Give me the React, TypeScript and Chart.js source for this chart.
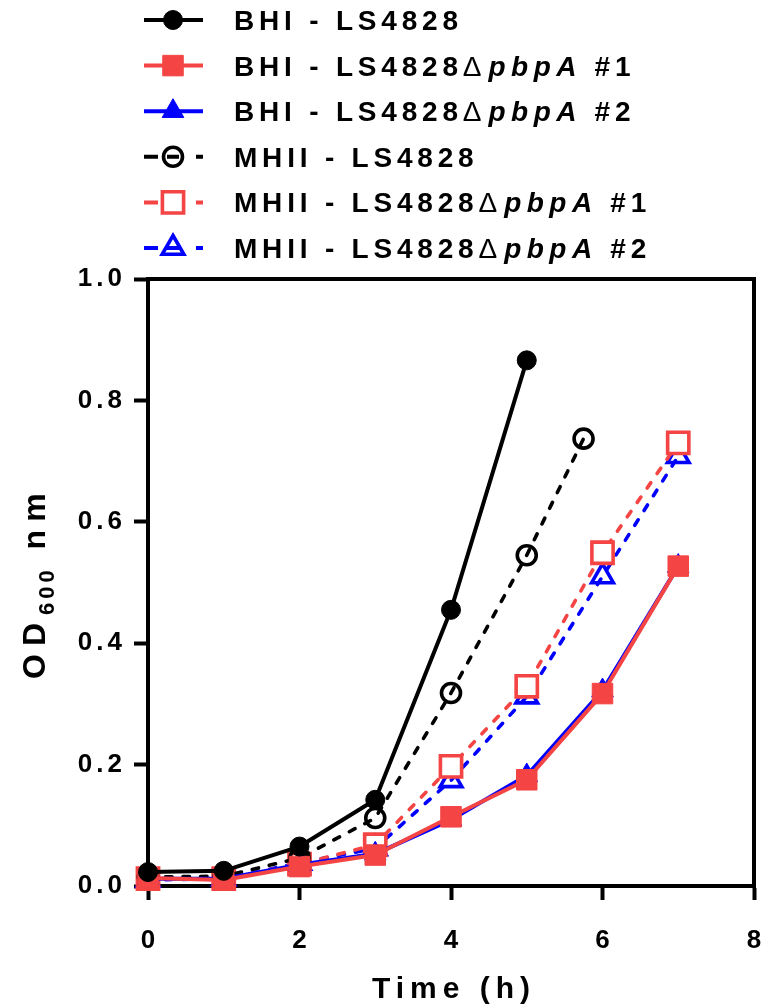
import React, { useEffect, useRef } from 'react';
import { Chart, registerables } from 'chart.js';

Chart.register(...registerables);

// ---- data ----
const bhiWtTime = [0, 1, 2, 3, 4, 5];
const bhiWtOD = [0.023, 0.025, 0.065, 0.142, 0.455, 0.866];

const mhiiWtTime = [0, 1, 2, 3, 4, 5, 5.75];
const mhiiWtOD = [0.015, 0.016, 0.046, 0.112, 0.318, 0.545, 0.737];

const mutantTime = [0, 1, 2, 3, 4, 5, 6, 7];
const bhiDel1OD = [0.013, 0.010, 0.032, 0.051, 0.114, 0.175, 0.317, 0.527];
const bhiDel2OD = [0.012, 0.012, 0.035, 0.053, 0.109, 0.182, 0.322, 0.527];
const mhiiDel1OD = [0.012, 0.012, 0.036, 0.068, 0.197, 0.329, 0.549, 0.730];
const mhiiDel2OD = [0.010, 0.012, 0.038, 0.062, 0.174, 0.312, 0.510, 0.708];

const xTicks = [0, 2, 4, 6, 8];
const yTicks = [0, 0.2, 0.4, 0.6, 0.8, 1.0];

const mediumNames = ['BHI', 'BHI', 'BHI', 'MHII', 'MHII', 'MHII'];
const strainName = 'LS4828';
const mutantGene = 'pbpA';
const cloneTags = ['', '#1', '#2', '', '#1', '#2'];

const xTitle = 'Time (h)';
const yTitleMain = 'OD';
const yTitleSub = '600';
const yTitleUnit = ' nm';

const BLACK = '#000000';
const RED = '#F44444';
const BLUE = '#0000FF';
const FONT = '"Liberation Sans", Arial, sans-serif';

const pts = (xs: number[], ys: number[]) => ys.map((y, i) => ({ x: xs[i], y }));

function drawMarker(ctx: CanvasRenderingContext2D, style: string, x: number, y: number, r: number,
  fill: string, stroke: string, lw: number) {
  ctx.beginPath();
  if (style === 'circle') {
    ctx.arc(x, y, r, 0, Math.PI * 2);
  } else if (style === 'rect') {
    const s = r * Math.SQRT1_2;
    ctx.rect(x - s, y - s, 2 * s, 2 * s);
  } else {
    ctx.moveTo(x, y - r);
    ctx.lineTo(x + r * Math.sin((2 * Math.PI) / 3), y + r / 2);
    ctx.lineTo(x - r * Math.sin((2 * Math.PI) / 3), y + r / 2);
    ctx.closePath();
  }
  if (fill && fill !== 'transparent') {
    ctx.fillStyle = fill;
    ctx.fill();
  }
  ctx.lineWidth = lw;
  ctx.strokeStyle = stroke;
  ctx.lineJoin = 'miter';
  ctx.stroke();
}

const framePlugin = {
  id: 'frameAndText',
  beforeDraw(chart: any) {
    chart.ctx.letterSpacing = '4px';
  },
  beforeDatasetsDraw(chart: any) {
    const { ctx, chartArea } = chart;
    ctx.save();
    ctx.strokeStyle = BLACK;
    ctx.lineWidth = 4;
    ctx.lineCap = 'square';
    ctx.beginPath();
    ctx.moveTo(chartArea.left, chartArea.top);
    ctx.lineTo(chartArea.right, chartArea.top);
    ctx.lineTo(chartArea.right, chartArea.bottom);
    ctx.stroke();
    ctx.restore();
  },
  afterDraw(chart: any) {
    const { ctx, chartArea } = chart;
    const xScale = chart.scales.x;
    ctx.save();
    ctx.fillStyle = BLACK;
    ctx.textAlign = 'left';
    ctx.textBaseline = 'alphabetic';

    // x tick labels
    ctx.font = `bold 26px ${FONT}`;
    ctx.letterSpacing = '4px';
    xTicks.forEach((v) => {
      const t = String(v);
      const w = ctx.measureText(t).width - 4;
      ctx.fillText(t, xScale.getPixelForValue(v) - w / 2, 948);
    });

    // x title
    ctx.font = `bold 30px ${FONT}`;
    ctx.letterSpacing = '6px';
    const xw = ctx.measureText(xTitle).width - 6;
    ctx.fillText(xTitle, (chartArea.left + chartArea.right) / 2 - xw / 2, 998);

    // y title (rotated, with subscript)
    ctx.save();
    ctx.translate(45, 679);
    ctx.rotate(-Math.PI / 2);
    let px = 0;
    ctx.font = `bold 32px ${FONT}`;
    ctx.letterSpacing = '8px';
    ctx.fillText(yTitleMain, px, 0);
    px += ctx.measureText(yTitleMain).width;
    ctx.font = `bold 22px ${FONT}`;
    ctx.letterSpacing = '4px';
    ctx.fillText(yTitleSub, px, 9);
    px += ctx.measureText(yTitleSub).width;
    ctx.font = `bold 32px ${FONT}`;
    ctx.letterSpacing = '8px';
    ctx.fillText(yTitleUnit, px, 0);
    ctx.restore();

    // legend
    const rowTop = 20;
    const rowGap = 45.6;
    chart.data.datasets.forEach((ds: any, i: number) => {
      const y = rowTop + i * rowGap;
      const dashed = ds.borderDash && ds.borderDash.length > 0;
      ctx.strokeStyle = ds.borderColor;
      ctx.lineWidth = 4;
      ctx.lineCap = 'butt';
      ctx.setLineDash(dashed ? [14, 9, 12, 17, 7, 100] : []);
      ctx.beginPath();
      ctx.moveTo(144, y);
      ctx.lineTo(203, y);
      ctx.stroke();
      ctx.setLineDash([]);
      drawMarker(ctx, ds.pointStyle, 173, y, ds.pointRadius, ds.pointBackgroundColor,
        ds.pointBorderColor, ds.pointBorderWidth);

      const parts: { t: string; f: string; ls: number }[] = [
        { t: `${mediumNames[i]} - ${strainName}`, f: `bold 28px ${FONT}`, ls: 4.8 },
      ];
      if (cloneTags[i]) {
        parts.push({ t: '\u0394', f: `28px ${FONT}`, ls: 7 });
        parts.push({ t: mutantGene, f: `italic bold 28px ${FONT}`, ls: 5.5 });
        parts.push({ t: ` ${cloneTags[i]}`, f: `bold 28px ${FONT}`, ls: 4.8 });
      }
      let tx = 234;
      ctx.fillStyle = BLACK;
      parts.forEach((p) => {
        ctx.font = p.f;
        ctx.letterSpacing = `${p.ls}px`;
        ctx.fillText(p.t, tx, y + 10);
        tx += ctx.measureText(p.t).width;
      });
    });
    ctx.restore();
    ctx.letterSpacing = '0px';
  },
};

export default function App() {
  const ref = useRef<HTMLCanvasElement | null>(null);

  useEffect(() => {
    if (!ref.current) return;
    const solid = { borderWidth: 4, borderCapStyle: 'round' as const, borderJoinStyle: 'round' as const };
    const dashed = { borderWidth: 3.6, borderDash: [6.5, 11], borderCapStyle: 'round' as const };
    const label = (i: number) =>
      `${mediumNames[i]} - ${strainName}${cloneTags[i] ? `\u0394${mutantGene} ${cloneTags[i]}` : ''}`;

    const chart = new Chart(ref.current, {
      type: 'line',
      data: {
        datasets: [
          {
            label: label(0), data: pts(bhiWtTime, bhiWtOD), ...solid,
            borderColor: BLACK, pointStyle: 'circle', pointRadius: 9.5,
            pointBackgroundColor: BLACK, pointBorderColor: BLACK, pointBorderWidth: 1,
          },
          {
            label: label(1), data: pts(mutantTime, bhiDel1OD), ...solid,
            borderColor: RED, pointStyle: 'rect', pointRadius: 14.5,
            pointBackgroundColor: RED, pointBorderColor: RED, pointBorderWidth: 1,
          },
          {
            label: label(2), data: pts(mutantTime, bhiDel2OD), ...solid,
            borderColor: BLUE, pointStyle: 'triangle', pointRadius: 12.5,
            pointBackgroundColor: BLUE, pointBorderColor: BLUE, pointBorderWidth: 1,
          },
          {
            label: label(3), data: pts(mhiiWtTime, mhiiWtOD), ...dashed,
            borderColor: BLACK, pointStyle: 'circle', pointRadius: 9.5,
            pointBackgroundColor: 'transparent', pointBorderColor: BLACK, pointBorderWidth: 3.6,
          },
          {
            label: label(4), data: pts(mutantTime, mhiiDel1OD), ...dashed,
            borderColor: RED, pointStyle: 'rect', pointRadius: 15,
            pointBackgroundColor: '#FFFFFF', pointBorderColor: RED, pointBorderWidth: 3.6,
          },
          {
            label: label(5), data: pts(mutantTime, mhiiDel2OD), ...dashed,
            borderColor: BLUE, pointStyle: 'triangle', pointRadius: 12.5,
            pointBackgroundColor: 'transparent', pointBorderColor: BLUE, pointBorderWidth: 3.6,
          },
        ] as any,
      },
      options: {
        responsive: false,
        maintainAspectRatio: false,
        animation: false,
        events: [],
        clip: false as any,
        layout: { autoPadding: false, padding: { top: 279, right: 8, left: 0, bottom: 0 } },
        plugins: { legend: { display: false }, tooltip: { enabled: false } },
        scales: {
          x: {
            type: 'linear',
            min: 0,
            max: 8,
            afterBuildTicks: (s: any) => { s.ticks = xTicks.map((v) => ({ value: v })); },
            afterFit: (s: any) => { s.height = 122; s.paddingRight = 0; s.paddingLeft = 0; },
            ticks: { display: false, padding: 0 },
            grid: { display: true, drawOnChartArea: false, drawTicks: true, tickLength: 14, tickWidth: 4, tickColor: BLACK },
            border: { display: true, width: 4, color: BLACK },
          },
          y: {
            type: 'linear',
            min: 0,
            max: 1,
            afterBuildTicks: (s: any) => { s.ticks = yTicks.map((v) => ({ value: v })); },
            afterFit: (s: any) => { s.width = 148; s.paddingTop = 0; s.paddingBottom = 0; },
            ticks: {
              color: BLACK,
              font: { family: FONT, size: 26, weight: 'bold' },
              padding: 8,
              callback: (v: any) => Number(v).toFixed(1),
            },
            grid: { display: true, drawOnChartArea: false, drawTicks: true, tickLength: 14, tickWidth: 4, tickColor: BLACK },
            border: { display: true, width: 4, color: BLACK },
          },
        },
      } as any,
      plugins: [framePlugin],
    });
    return () => chart.destroy();
  }, []);

  return (
    <div style={{ position: 'absolute', left: 0, top: 0, width: 762, height: 1008, background: '#fff' }}>
      <canvas ref={ref} width={762} height={1008} style={{ display: 'block', width: 762, height: 1008 }} />
    </div>
  );
}
